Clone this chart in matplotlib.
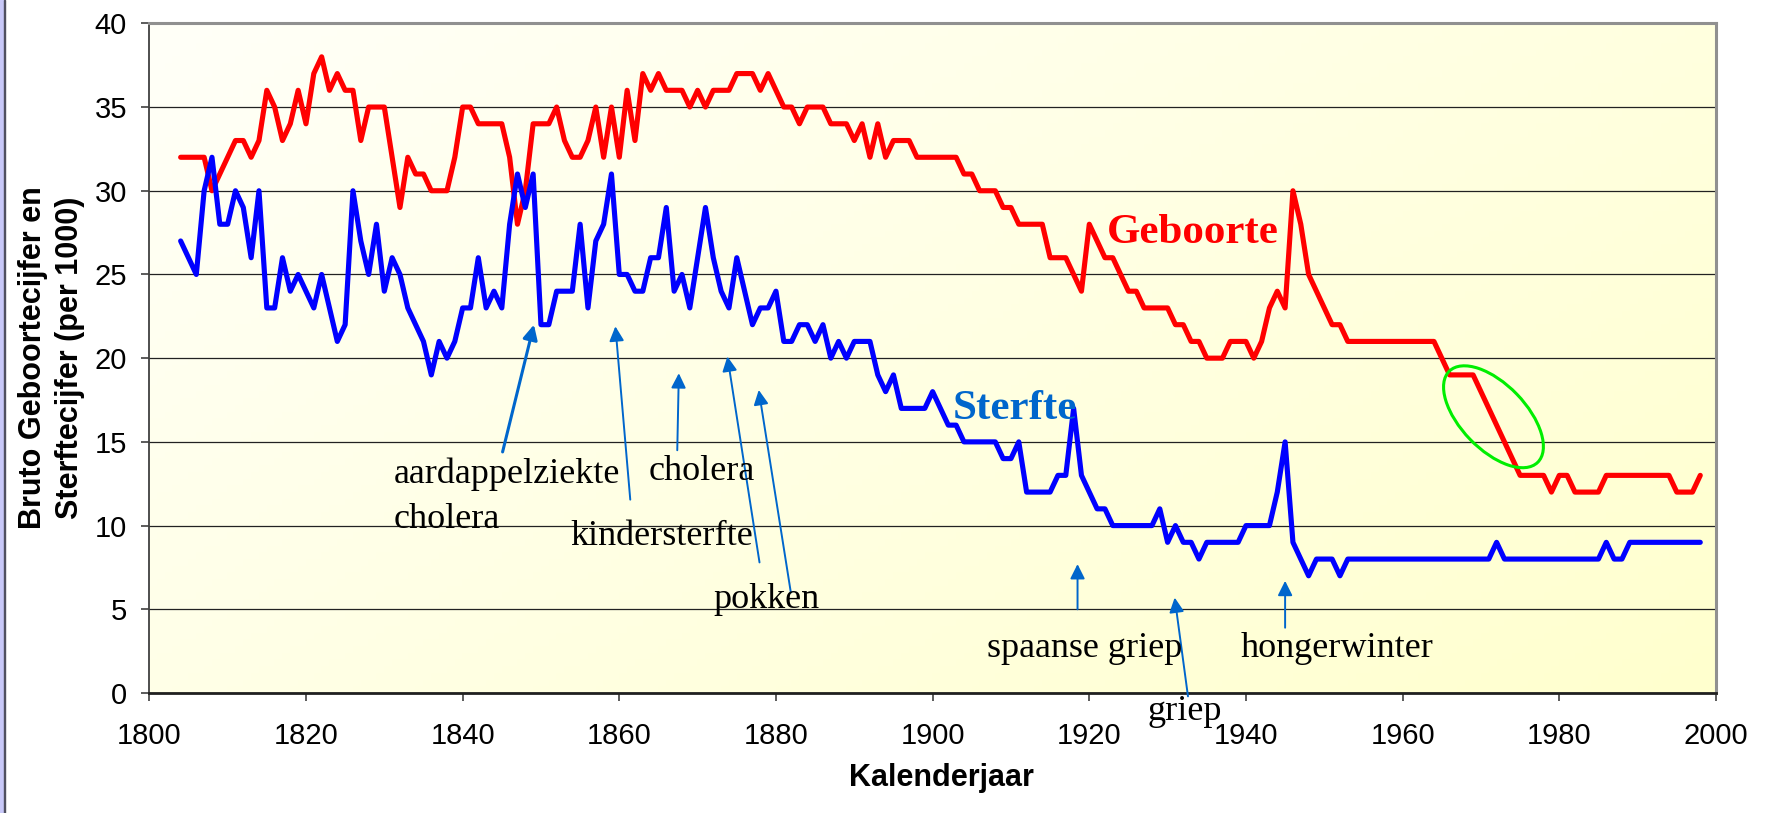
import numpy as np
import matplotlib
matplotlib.use('Agg')
import matplotlib.pyplot as plt
from matplotlib.patches import Ellipse, Rectangle
from matplotlib.colors import LinearSegmentedColormap
from matplotlib.transforms import ScaledTranslation

plt.rcParams['font.family'] = ['Liberation Sans', 'DejaVu Sans']

# Kalenderjaar, one value per year
years = np.arange(1804, 1999)

# Bruto geboortecijfer (per 1000)
geboorte = [
    32, 32, 32, 32, 30, 31, 32, 33, 33, 32,
    33, 36, 35, 33, 34, 36, 34, 37, 38, 36,
    37, 36, 36, 33, 35, 35, 35, 32, 29, 32,
    31, 31, 30, 30, 30, 32, 35, 35, 34, 34,
    34, 34, 32, 28, 30, 34, 34, 34, 35, 33,
    32, 32, 33, 35, 32, 35, 32, 36, 33, 37,
    36, 37, 36, 36, 36, 35, 36, 35, 36, 36,
    36, 37, 37, 37, 36, 37, 36, 35, 35, 34,
    35, 35, 35, 34, 34, 34, 33, 34, 32, 34,
    32, 33, 33, 33, 32, 32, 32, 32, 32, 32,
    31, 31, 30, 30, 30, 29, 29, 28, 28, 28,
    28, 26, 26, 26, 25, 24, 28, 27, 26, 26,
    25, 24, 24, 23, 23, 23, 23, 22, 22, 21,
    21, 20, 20, 20, 21, 21, 21, 20, 21, 23,
    24, 23, 30, 28, 25, 24, 23, 22, 22, 21,
    21, 21, 21, 21, 21, 21, 21, 21, 21, 21,
    21, 20, 19, 19, 19, 19, 18, 17, 16, 15,
    14, 13, 13, 13, 13, 12, 13, 13, 12, 12,
    12, 12, 13, 13, 13, 13, 13, 13, 13, 13,
    13, 12, 12, 12, 13,
]

# Bruto sterftecijfer (per 1000)
sterfte = [
    27, 26, 25, 30, 32, 28, 28, 30, 29, 26,
    30, 23, 23, 26, 24, 25, 24, 23, 25, 23,
    21, 22, 30, 27, 25, 28, 24, 26, 25, 23,
    22, 21, 19, 21, 20, 21, 23, 23, 26, 23,
    24, 23, 28, 31, 29, 31, 22, 22, 24, 24,
    24, 28, 23, 27, 28, 31, 25, 25, 24, 24,
    26, 26, 29, 24, 25, 23, 26, 29, 26, 24,
    23, 26, 24, 22, 23, 23, 24, 21, 21, 22,
    22, 21, 22, 20, 21, 20, 21, 21, 21, 19,
    18, 19, 17, 17, 17, 17, 18, 17, 16, 16,
    15, 15, 15, 15, 15, 14, 14, 15, 12, 12,
    12, 12, 13, 13, 17, 13, 12, 11, 11, 10,
    10, 10, 10, 10, 10, 11, 9, 10, 9, 9,
    8, 9, 9, 9, 9, 9, 10, 10, 10, 10,
    12, 15, 9, 8, 7, 8, 8, 8, 7, 8,
    8, 8, 8, 8, 8, 8, 8, 8, 8, 8,
    8, 8, 8, 8, 8, 8, 8, 8, 9, 8,
    8, 8, 8, 8, 8, 8, 8, 8, 8, 8,
    8, 8, 9, 8, 8, 9, 9, 9, 9, 9,
    9, 9, 9, 9, 9,
]

# annotations: text, (x, baseline y)
notes = [
    ('aardappelziekte', 1831.2, 12.55),
    ('cholera', 1831.2, 9.86),
    ('cholera', 1863.7, 12.75),
    ('kindersterfte', 1853.7, 8.86),
    ('pokken', 1872.0, 5.07),
    ('spaanse griep', 1906.9, 2.17),
    ('hongerwinter', 1939.3, 2.17),
    ('griep', 1927.4, -1.6),
]
# arrows: tail -> head
arrow_tails = [(1845.1, 14.4), (1861.4, 11.55), (1867.4, 14.5), (1877.9, 7.8),
               (1881.9, 6.0), (1918.5, 5.0), (1932.6, -0.2), (1945.0, 3.9)]
arrow_heads = [(1849.1, 22.0), (1859.5, 21.9), (1867.6, 19.1), (1873.8, 20.1),
               (1877.8, 18.1), (1918.5, 7.7), (1930.9, 5.7), (1945.0, 6.7)]

fig = plt.figure(figsize=(17.67, 8.13), dpi=100)
ax = fig.add_axes([0.0845, 0.1476, 0.8866, 0.8237])

# lavender slide border on the left
fig.patches.append(Rectangle((0, 0), 4 / 1767, 1, transform=fig.transFigure,
                             color='#C8C8F8', zorder=0))
fig.patches.append(Rectangle((4 / 1767, 0), 1.3 / 1767, 1, transform=fig.transFigure,
                             color='#505060', zorder=0))

# pale yellow gradient in the plot area
cmap = LinearSegmentedColormap.from_list('bg', ['#FFFFF8', '#FFFFCE'])
gx, gy = np.meshgrid(np.linspace(0, 1, 200), np.linspace(0, 1, 100))
ax.imshow(gx * 0.6 + gy * 0.4, cmap=cmap, extent=(0, 1, 0, 1), transform=ax.transAxes,
          aspect='auto', zorder=0, origin='upper')

ax.set_xlim(1800, 2000)
ax.set_ylim(0, 40)
ax.set_xticks(np.arange(1800, 2001, 20))
ax.set_yticks(np.arange(0, 41, 5))
ax.grid(axis='y', color='#222222', linewidth=0.9, zorder=1)
ax.tick_params(axis='both', labelsize=21, direction='out', length=6, width=1.2, color='#404040')
ax.tick_params(axis='x', pad=15)
ax.tick_params(axis='y', pad=10)

for s in ['top', 'right']:
    ax.spines[s].set_color('#909090')
    ax.spines[s].set_linewidth(2.2)
ax.spines['left'].set_color('#404040')
ax.spines['left'].set_linewidth(1.3)
ax.spines['bottom'].set_color('#202020')
ax.spines['bottom'].set_linewidth(2)

ax.plot(years, geboorte, color='#FF0000', lw=3.7, solid_joinstyle='round',
        solid_capstyle='round', zorder=3)
ax.plot(years, sterfte, color='#0000FF', lw=3.7, solid_joinstyle='round',
        solid_capstyle='round', zorder=3)

arrow_color = '#0066CC'
for i, (tail, head) in enumerate(zip(arrow_tails, arrow_heads)):
    ax.annotate('', xy=head, xytext=tail,
                arrowprops=dict(arrowstyle='-|>', color=arrow_color,
                                lw=2.2 if i == 0 else 1.4, mutation_scale=22,
                                shrinkA=0, shrinkB=0),
                annotation_clip=False, zorder=4)

for txt, x, y in notes:
    ax.text(x, y, txt, family='Liberation Serif', fontsize=26, ha='left',
            va='baseline', color='black', zorder=5, clip_on=False)

ax.text(1902.6, 16.38, 'Sterfte', family='Liberation Serif', fontsize=31,
        fontweight='bold', color='#0066CC', va='baseline', zorder=5)
ax.text(1922.2, 26.9, 'Geboorte', family='Liberation Serif', fontsize=31,
        fontweight='bold', color='#FF0000', va='baseline', zorder=5)

# green ellipse around the post-1965 drop
ell_tr = fig.dpi_scale_trans + ScaledTranslation(1971.6, 16.5, ax.transData)
ax.add_patch(Ellipse((0, 0), 1.27, 0.65, angle=-46, transform=ell_tr, fill=False,
                     edgecolor='#00EE00', lw=2.2, zorder=6))

fig.text(51.7 / 1767, 1 - 358 / 813, 'Bruto Geboortecijfer en\nSterftecijfer (per 1000)',
         rotation=90, ha='center', va='center', fontsize=22, fontweight='bold',
         linespacing=1.3, multialignment='center')
fig.text(941 / 1767, 1 - 777.6 / 813, 'Kalenderjaar', ha='center', va='center',
         fontsize=22, fontweight='bold')

fig.savefig('out.png', dpi=100)
